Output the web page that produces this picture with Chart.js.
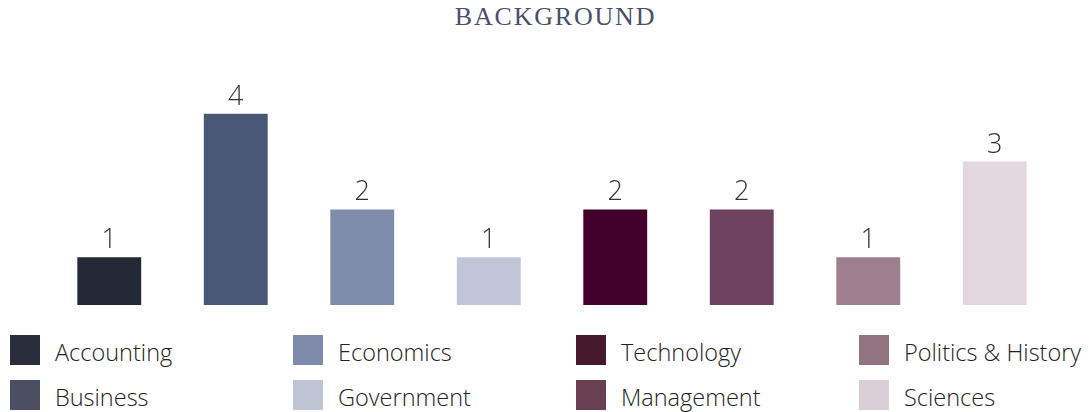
<!DOCTYPE html>
<html>
<head>
<meta charset="utf-8">
<script src="https://cdn.jsdelivr.net/npm/chart.js@4"></script>
<style>
  body { margin: 0; background: #fff; width: 1091px; height: 412px; overflow: hidden; position: relative; }
  #title {
    position: absolute; left: 10px; top: 2px; width: 1091px; text-align: center;
    font-family: "Liberation Serif", "DejaVu Serif", serif; font-size: 26px;
    letter-spacing: 1.8px; color: #4b4f6b;
  }
  #chartBox { position: absolute; left: 0; top: 40px; width: 1091px; height: 280px; }
  #legend { position: absolute; left: 10px; top: 335px; width: 1091px; }
  .item { position: absolute; height: 30px; display: flex; align-items: center;
    font-family: "Open Sans", sans-serif; font-weight: 300; font-size: 23.5px; color: #222; white-space: nowrap; }
  .swatch { width: 30px; height: 30px; margin-right: 15px; flex: none; }
</style>
</head>
<body>
<div id="title">BACKGROUND</div>
<div id="chartBox"><canvas id="backgroundChart"></canvas></div>
<div id="legend"></div>
<script>
// Data
const categories = ['Accounting', 'Business', 'Economics', 'Government', 'Technology', 'Management', 'Politics & History', 'Sciences'];
const counts = [1, 4, 2, 1, 2, 2, 1, 3];
const barColors = ['#232937', '#4a5877', '#7f8dad', '#c0c6d8', '#43002d', '#6e4360', '#9e7f90', '#e2d8de'];
const legendColors = ['#2a2d3b', '#4a4f62', '#7f8bab', '#c0c5d6', '#461a2c', '#694050', '#927380', '#dacfd6'];

// Draw value labels above bars
const valueLabels = {
    id: 'valueLabels',
    afterDatasetsDraw(chart) {
        const ctx = chart.ctx;
        const meta = chart.getDatasetMeta(0);
        ctx.save();
        ctx.font = '300 27px "Open Sans"';
        ctx.fillStyle = '#333';
        ctx.textAlign = 'center';
        ctx.textBaseline = 'alphabetic';
        meta.data.forEach((bar, i) => {
            ctx.fillText(counts[i], bar.x, bar.y - 9);
        });
        ctx.restore();
    }
};

const ctx = document.getElementById('backgroundChart').getContext('2d');
const backgroundChart = new Chart(ctx, {
    type: 'bar',
    data: {
        labels: categories,
        datasets: [{
            data: counts,
            backgroundColor: barColors,
            categoryPercentage: 1,
            barPercentage: 0.505
        }]
    },
    options: {
        responsive: true,
        maintainAspectRatio: false,
        animation: false,
        layout: { padding: { left: 46, right: 33, top: 26, bottom: 15 } },
        plugins: {
            legend: { display: false },
            tooltip: { enabled: false }
        },
        scales: {
            x: { display: false },
            y: { display: false, min: 0, max: 5 }
        }
    },
    plugins: [valueLabels]
});

// Legend: 4 columns, filled column by column
const legend = document.getElementById('legend');
categories.forEach((name, i) => {
    const col = Math.floor(i / 2);
    const row = i % 2;
    const item = document.createElement('div');
    item.className = 'item';
    item.style.left = (col * 283) + 'px';
    item.style.top = (row * 45) + 'px';
    item.innerHTML = `<span class="swatch" style="background:${legendColors[i]}"></span><span style="position:relative;top:2px">${name}</span>`;
    legend.appendChild(item);
});
</script>
</body>
</html>
